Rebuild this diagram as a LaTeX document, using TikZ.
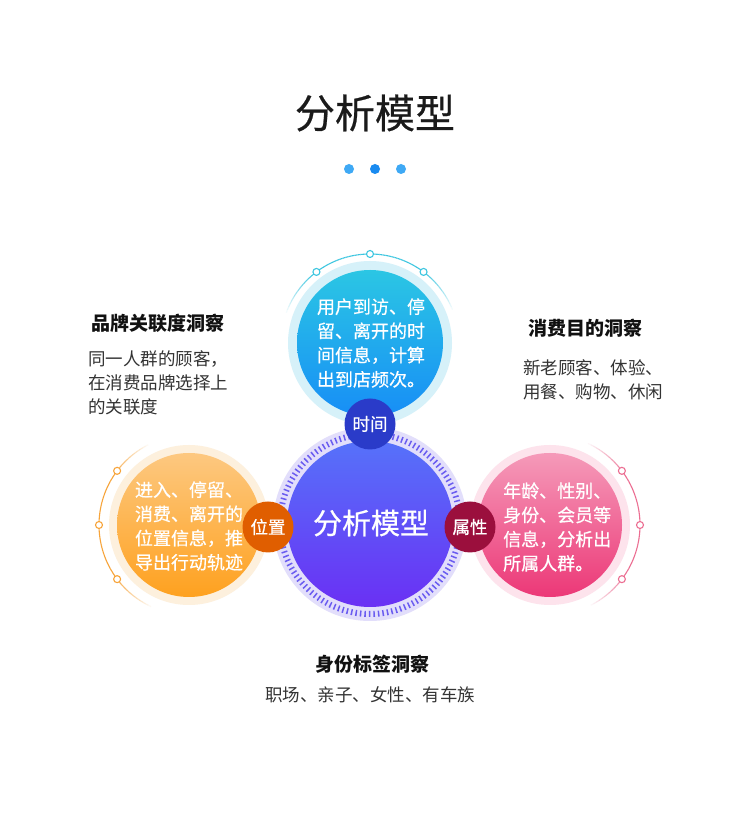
\documentclass[tikz,border=0pt]{standalone}
\usepackage{fontspec}
\setmainfont{Noto Sans CJK SC}
\newfontfamily\medfont[FakeBold=0.6]{Noto Sans CJK SC}
\usetikzlibrary{calc}
\definecolor{titlecol}{HTML}{1A1A1A}
\definecolor{dotA}{HTML}{3FA9F5}
\definecolor{dotB}{HTML}{1A8BF0}
\definecolor{topA}{HTML}{2BC6E4}
\definecolor{topB}{HTML}{178EF6}
\definecolor{topRing}{HTML}{D6F1F9}
\definecolor{topArc}{HTML}{3CC6E0}
\definecolor{timeBadge}{HTML}{2A3BC9}
\definecolor{cA}{HTML}{5672FA}
\definecolor{cB}{HTML}{6A30F4}
\definecolor{cRing}{HTML}{E2DEFB}
\definecolor{cTick}{HTML}{6A5CF0}
\definecolor{lA}{HTML}{FDC880}
\definecolor{lB}{HTML}{FEA11F}
\definecolor{lRing}{HTML}{FDF0DD}
\definecolor{lArc}{HTML}{F7A43A}
\definecolor{posBadge}{HTML}{E05E00}
\definecolor{rA}{HTML}{F59AB9}
\definecolor{rB}{HTML}{EC3877}
\definecolor{rRing}{HTML}{FDE3EC}
\definecolor{rArc}{HTML}{EC6E92}
\definecolor{attrBadge}{HTML}{9B0F3D}
\definecolor{headcol}{HTML}{111111}
\definecolor{bodycol}{HTML}{333333}
\tikzset{
  ringnode/.style={circle, inner sep=0pt, outer sep=0pt},
  ctext/.style={text=white, font=\medfont\fontsize{18}{24.2}\selectfont, inner sep=0pt},
  badge/.style={circle, minimum size=51pt, inner sep=0pt, text=white, font=\medfont\fontsize{17.5}{20}\selectfont},
  heading/.style={font=\bfseries\fontsize{19}{23}\selectfont, text=headcol, inner sep=0pt},
  body/.style={font=\fontsize{17.5}{24}\selectfont, text=bodycol, inner sep=0pt, align=left},
  arcdot/.style={circle, draw, fill=white, line width=1.1pt, minimum size=7pt, inner sep=0pt},
  tdot/.style={circle, minimum size=10pt, inner sep=0pt},
}
\begin{document}
\begin{tikzpicture}[x=1pt,y=1pt]
\useasboundingbox (0,0) rectangle (750,814);
\fill[white] (0,0) rectangle (750,814);

% title
\node[text=titlecol, font=\medfont\fontsize{40}{48}\selectfont, inner sep=0pt] (title) at (375,701) {分析模型};
\node[tdot, fill=dotA] (d1) at (349,645) {};
\node[tdot, fill=dotB] (d2) at (375,645) {};
\node[tdot, fill=dotA] (d3) at (401,645) {};

% ---------- top circle ----------
\coordinate (tc) at (370,471);
\foreach \i in {0,...,69} {
  \pgfmathsetmacro\a{20+2*\i}
  \pgfmathsetmacro\op{min(1,min(\a-20,160-\a)/32)}
  \draw[topArc, line width=1.1pt, opacity=\op] ([shift={(\a:89)}]tc) arc[start angle=\a, end angle=\a+2, radius=89];
}
\node[ringnode, minimum size=164pt, fill=topRing] (timering) at (tc) {};
\node[ringnode, minimum size=146pt, top color=topA, bottom color=topB] (timec) at (tc) {};
\node[arcdot, draw=topArc] (ta1) at ([shift={(53:89)}]tc) {};
\node[arcdot, draw=topArc] (ta2) at ([shift={(90:89)}]tc) {};
\node[arcdot, draw=topArc] (ta3) at ([shift={(127:89)}]tc) {};
\node[ctext, align=left] (timetext) at (371,471) {用户到访、停\\留、离开的时\\间信息，计算\\出到店频次。};

% ---------- left circle ----------
\coordinate (lc) at (189,289);
\foreach \i in {0,...,64} {
  \pgfmathsetmacro\a{115+2*\i}
  \pgfmathsetmacro\op{min(1,min(\a-115,245-\a)/32)}
  \draw[lArc, line width=1.1pt, opacity=\op] ([shift={(\a:90)}]lc) arc[start angle=\a, end angle=\a+2, radius=90];
}
\node[ringnode, minimum size=160pt, fill=lRing] (posring) at (lc) {};
\node[ringnode, minimum size=144pt, top color=lA, bottom color=lB] (posc) at (lc) {};
\node[arcdot, draw=lArc] (la1) at ([shift={(143:90)}]lc) {};
\node[arcdot, draw=lArc] (la2) at ([shift={(180:90)}]lc) {};
\node[arcdot, draw=lArc] (la3) at ([shift={(217:90)}]lc) {};
\node[ctext, align=left] (postext) at (189,288) {进入、停留、\\消费、离开的\\位置信息，推\\导出行动轨迹};

% ---------- right circle ----------
\coordinate (rc) at (550,289);
\foreach \i in {0,...,64} {
  \pgfmathsetmacro\a{-65+2*\i}
  \pgfmathsetmacro\op{min(1,min(\a+65,65-\a)/32)}
  \draw[rArc, line width=1.1pt, opacity=\op] ([shift={(\a:90)}]rc) arc[start angle=\a, end angle=\a+2, radius=90];
}
\node[ringnode, minimum size=160pt, fill=rRing] (attrring) at (rc) {};
\node[ringnode, minimum size=144pt, top color=rA, bottom color=rB] (attrc) at (rc) {};
\node[arcdot, draw=rArc] (ra1) at ([shift={(37:90)}]rc) {};
\node[arcdot, draw=rArc] (ra2) at ([shift={(0:90)}]rc) {};
\node[arcdot, draw=rArc] (ra3) at ([shift={(-37:90)}]rc) {};
\node[ctext, align=left, anchor=west] (attrtext) at (503,287) {年龄、性别、\\身份、会员等\\信息，分析出\\所属人群。};

% ---------- center circle ----------
\coordinate (cc) at (370,290);
\node[ringnode, minimum size=194pt, fill=cRing] (corering) at (cc) {};
\draw[cTick, line width=6pt, dash pattern=on 1.5pt off 3pt] (cc) circle[radius=90];
\node[ringnode, minimum size=166pt, top color=cA, bottom color=cB] (core) at (cc) {};
\node[text=white, font=\medfont\fontsize{29}{34}\selectfont, inner sep=0pt] (coretext) at (371,291) {分析模型};

% ---------- badges ----------
\node[badge, fill=timeBadge] (timebadge) at (370,390) {时间};
\node[badge, fill=posBadge] (posbadge) at (268,287) {位置};
\node[badge, fill=attrBadge] (attrbadge) at (470,287) {属性};

% ---------- side texts ----------
\node[heading, anchor=west] (h1) at (91,491) {品牌关联度洞察};
\node[body, anchor=west] (b1) at (88,431) {同一人群的顾客，\\在消费品牌选择上\\的关联度};
\node[heading, anchor=west] (h2) at (528,486) {消费目的洞察};
\node[body, anchor=west] (b2) at (523,434) {新老顾客、体验、\\用餐、购物、休闲};
\node[heading] (h3) at (372,150) {身份标签洞察};
\node[body, align=center] (b3) at (370,119) {职场、亲子、女性、有车族};
\end{tikzpicture}
\end{document}
